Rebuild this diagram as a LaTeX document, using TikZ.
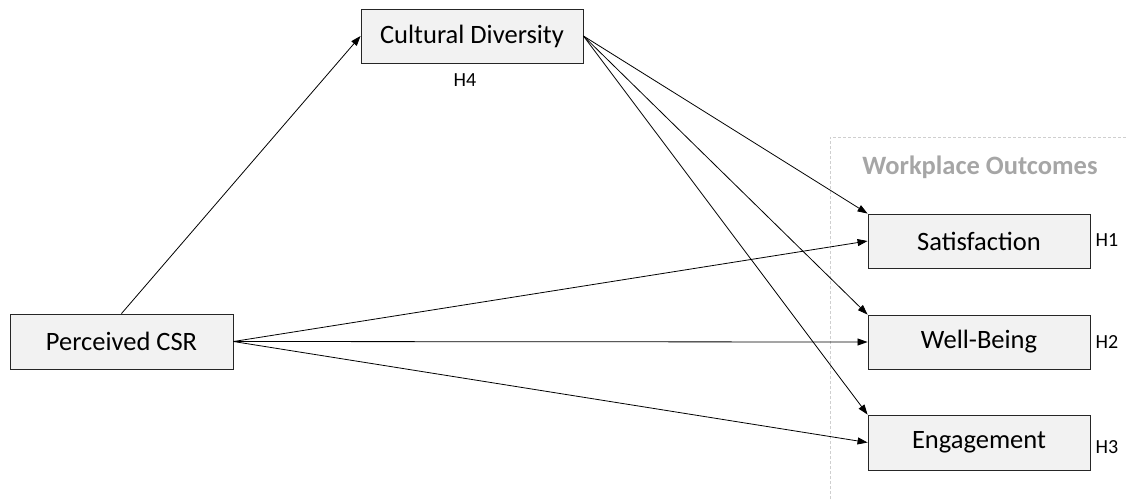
\documentclass[tikz,border=0pt]{standalone}
\usepackage{fontspec}
\setmainfont{Carlito}
\usetikzlibrary{arrows.meta}
\definecolor{boxfill}{HTML}{F2F2F2}
\definecolor{titlegray}{HTML}{A6A6A6}
\definecolor{dashgray}{HTML}{CFCFCF}
\tikzset{
  varbox/.style={draw=black!85, line width=0.9pt, fill=boxfill, minimum width=222pt, minimum height=54pt, inner sep=0pt, font=\fontsize{26.5}{30}\selectfont},
  hyp/.style={font=\fontsize{20}{24}\selectfont, inner sep=0pt},
  path/.style={draw, line width=0.8pt, -{Triangle[length=10pt,width=7pt]}},
}
\begin{document}
\begin{tikzpicture}[x=1pt,y=-1pt]
\useasboundingbox (0,0) rectangle (1128,499);
\draw[dashgray, line width=0.8pt, dash pattern=on 3pt off 2pt] (830,499) -- (830,137) -- (1128,137);
\node[font=\bfseries\fontsize{26.5}{30}\selectfont, text=titlegray] (title) at (980,167) {Workplace Outcomes};
\node[varbox] (cd) at (472,36) {Cultural Diversity};
\node[varbox, minimum height=55pt, minimum width=223pt] (csr) at (121.5,341.5) {Perceived CSR};
\node[varbox] (sat) at (979,241) {Satisfaction};
\node[varbox] (wb) at (979,342) {Well-Being};
\node[varbox, minimum height=55pt] (eng) at (979,442.5) {Engagement};
\node[hyp] (h4) at (465,80) {H4};
\node[hyp] (h1) at (1107,240) {H1};
\node[hyp] (h2) at (1107,342) {H2};
\node[hyp] (h3) at (1107,447) {H3};
\draw[path] (csr.north) -- (cd.west);
\draw[path] (cd.east) -- (sat.north west);
\draw[path] (cd.east) -- (wb.north west);
\draw[path] (cd.east) -- (eng.north west);
\draw[path] (csr.east) -- (sat.west);
\draw[path] (csr.east) -- (wb.west);
\draw[path] (csr.east) -- (eng.west);
\end{tikzpicture}
\end{document}
